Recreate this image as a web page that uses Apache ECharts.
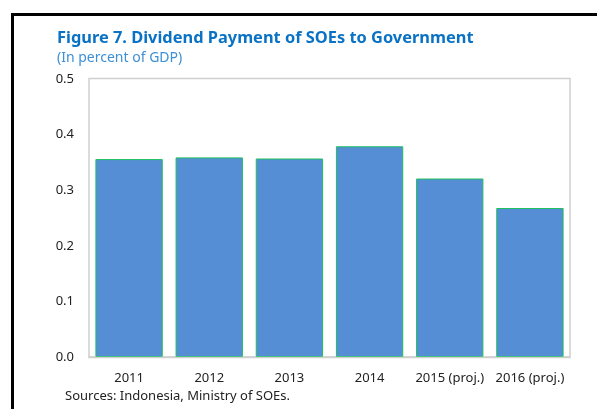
<!DOCTYPE html>
<html>
<head>
<meta charset="utf-8">
<script src="https://cdn.jsdelivr.net/npm/echarts@6/dist/echarts.min.js"></script>
<style>
  html, body { margin: 0; padding: 0; background: #fff; }
  #chart { width: 597px; height: 409px; }
</style>
</head>
<body>
<div id="chart"></div>
<script>
// Dividend payments of state-owned enterprises, percent of GDP
const categories = ['2011', '2012', '2013', '2014', '2015 (proj.)', '2016 (proj.)'];
const dividendShare = [0.356, 0.359, 0.357, 0.379, 0.321, 0.268];
const yTicks = { min: 0, max: 0.5, interval: 0.1 };

const FONT = '"Noto Sans", sans-serif';

const chart = echarts.init(document.getElementById('chart'), null, { renderer: 'canvas' });

chart.setOption({
  animation: false,
  backgroundColor: '#ffffff',
  title: [
    {
      text: 'Figure 7. Dividend Payment of SOEs to Government',
      left: 57, top: 30, padding: 0,
      textStyle: { fontFamily: FONT, fontSize: 16.4, fontWeight: 'bold', color: '#0a72c4' }
    },
    {
      text: '(In percent of GDP)',
      left: 57, top: 51, padding: 0,
      textStyle: { fontFamily: FONT, fontSize: 14, fontWeight: 'normal', color: '#3d8fd6' }
    },
    {
      text: 'Sources: Indonesia, Ministry of SOEs.',
      left: 65, top: 390, padding: 0,
      textStyle: { fontFamily: FONT, fontSize: 13, fontWeight: 'normal', color: '#222' }
    }
  ],
  graphic: [
    // black frame around the figure
    { type: 'rect', shape: { x: 11, y: 13, width: 3, height: 400 }, style: { fill: '#000' } },
    { type: 'rect', shape: { x: 11, y: 13, width: 600, height: 3 }, style: { fill: '#000' } },
    // plot-area border
    { type: 'rect', shape: { x: 89, y: 78.5, width: 481, height: 279 },
      style: { fill: 'none', stroke: '#d0d0d0', lineWidth: 1.5 }, z: 10 }
  ],
  grid: { left: 89, top: 79, width: 481, height: 278, containLabel: false },
  xAxis: {
    type: 'category',
    data: categories,
    axisLine: { show: true, lineStyle: { color: '#c8c8c8', width: 1.5 } },
    axisTick: { show: false },
    axisLabel: { fontFamily: FONT, fontSize: 13, color: '#222', margin: 15, interval: 0 }
  },
  yAxis: {
    type: 'value',
    min: yTicks.min, max: yTicks.max, interval: yTicks.interval,
    splitLine: { show: false },
    axisLine: { show: false },
    axisTick: { show: false },
    axisLabel: {
      fontFamily: FONT, fontSize: 13, color: '#222', margin: 15,
      formatter: v => v.toFixed(1)
    }
  },
  series: [{
    type: 'bar',
    data: dividendShare,
    barCategoryGap: '16%',
    itemStyle: { color: '#558ed5', borderColor: '#1cc060', borderWidth: 1 }
  }]
});
</script>
</body>
</html>
